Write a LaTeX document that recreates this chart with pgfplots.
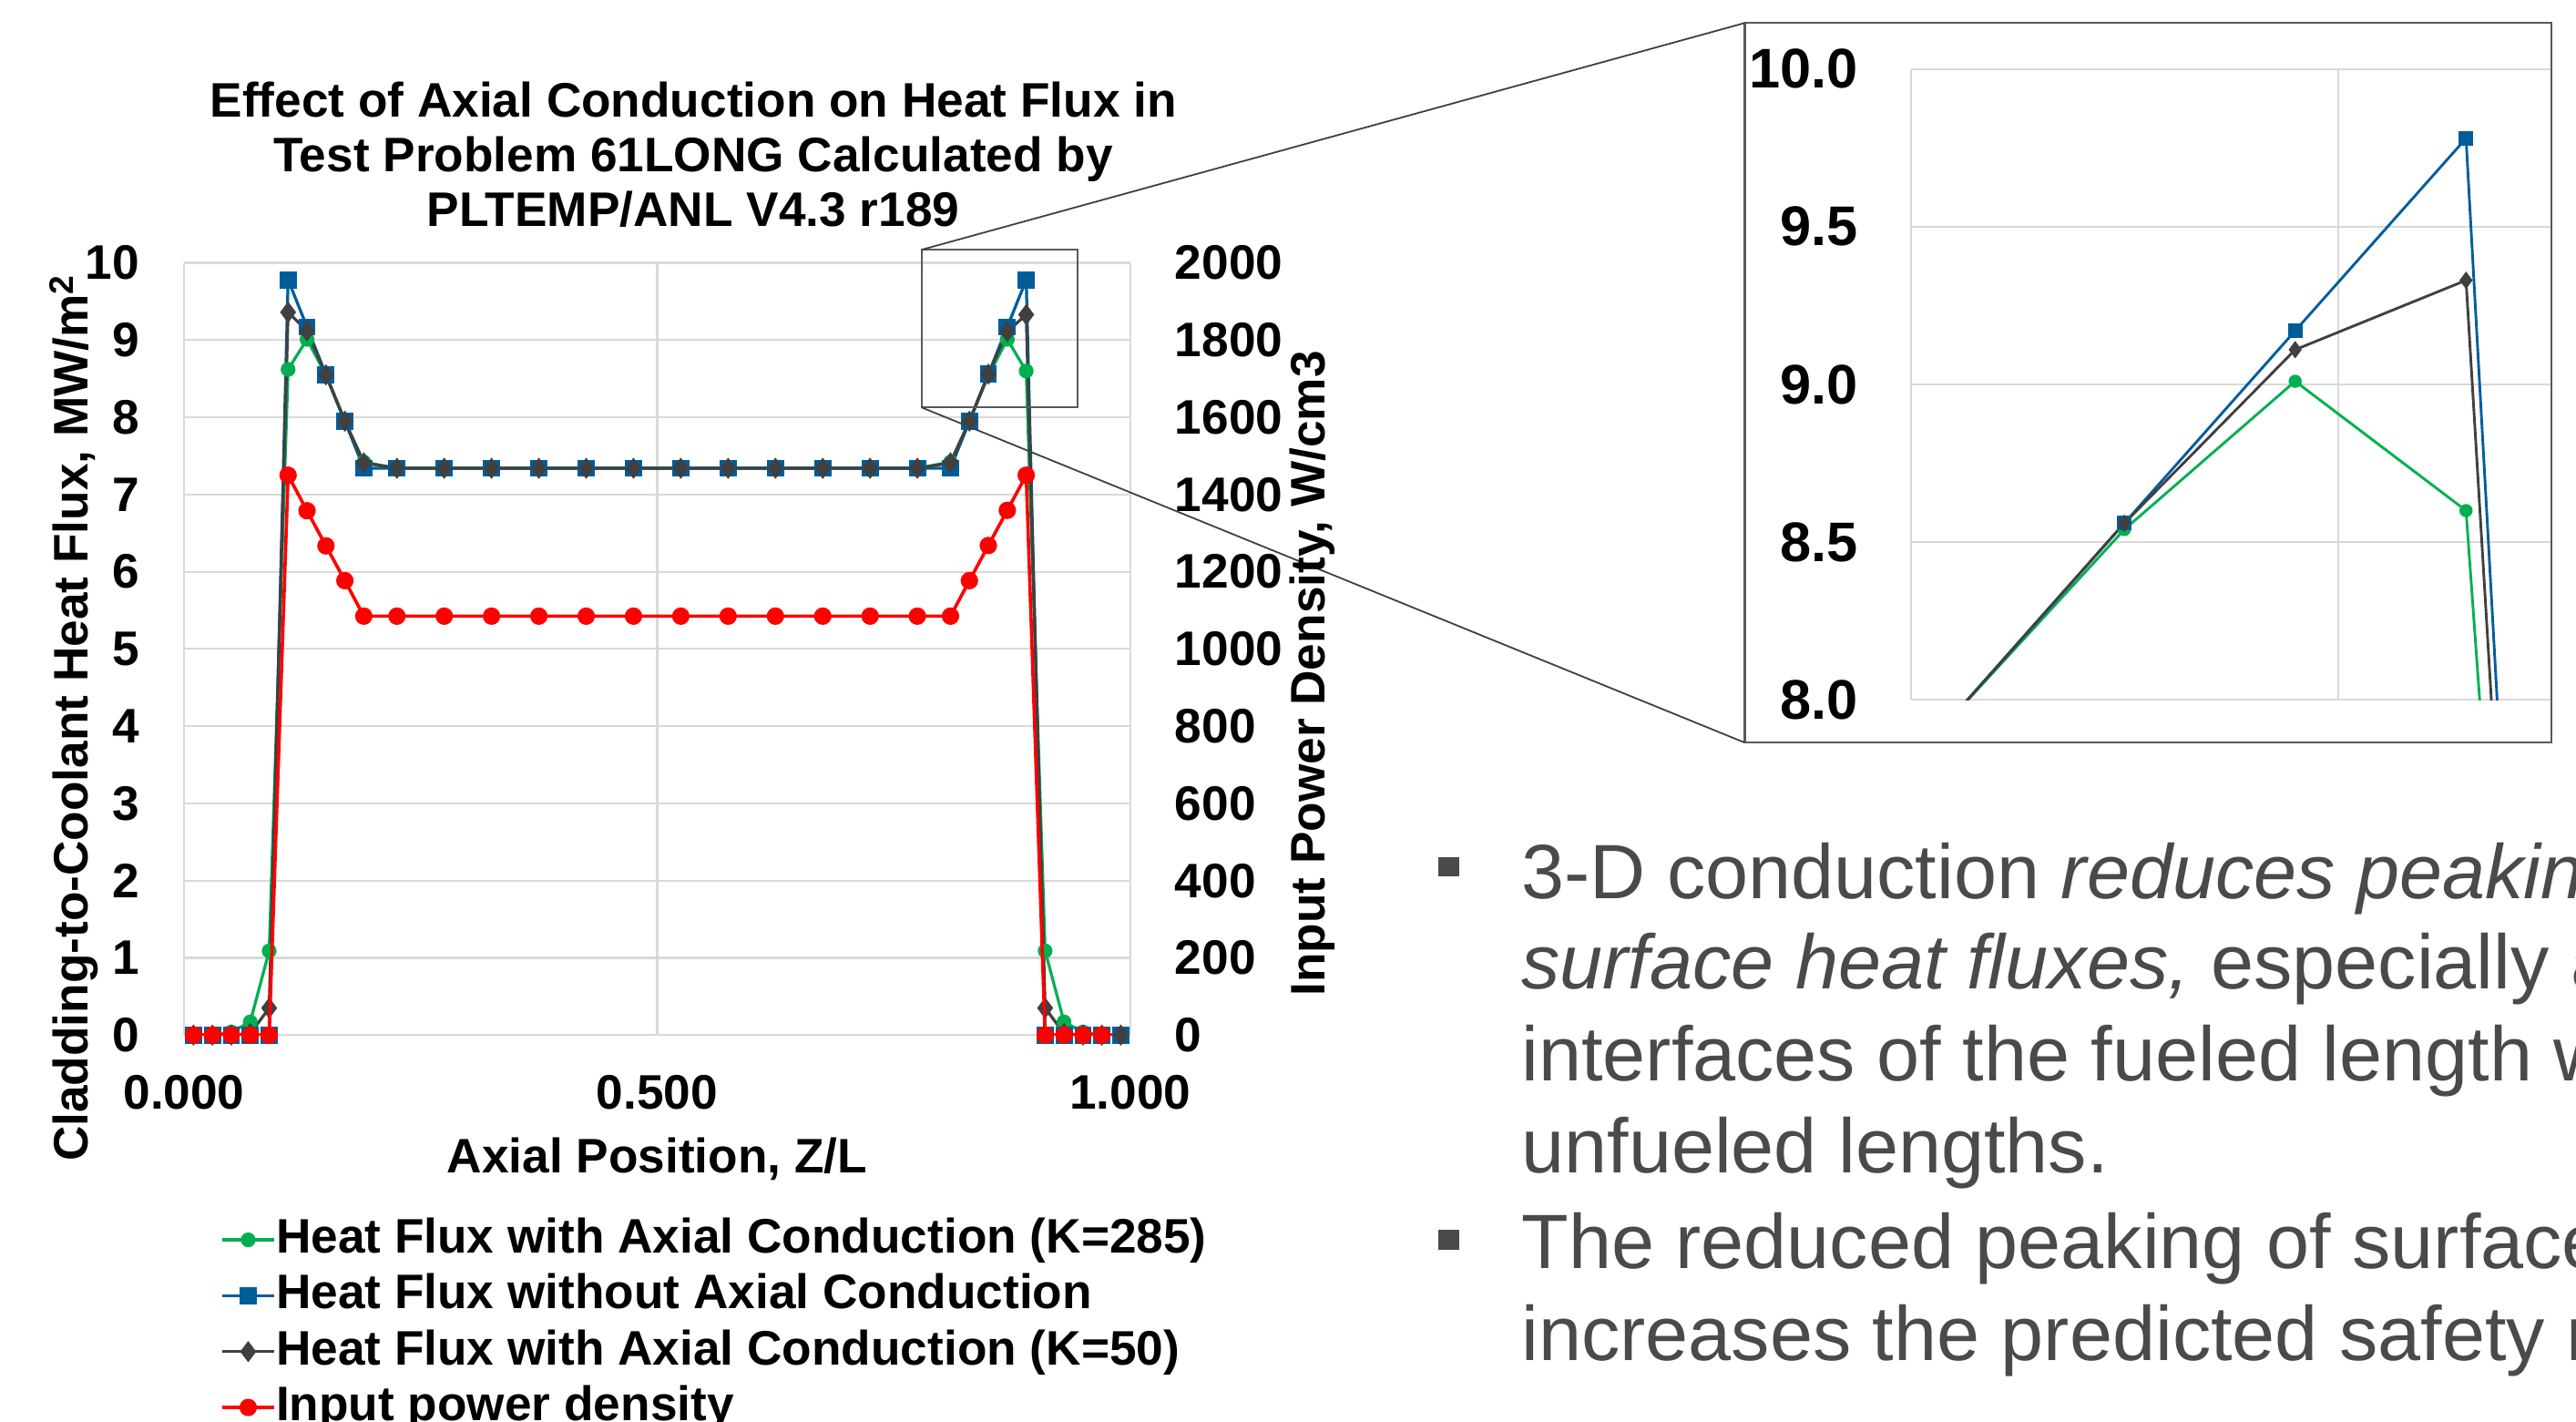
\documentclass[border=0pt]{standalone}
\usepackage{fontspec}
\setmainfont{Liberation Sans}
\usepackage{pgfplots}
\usepackage{pgfplotstable}
\pgfplotsset{compat=1.18}

\definecolor{cgreen}{RGB}{0,176,80}
\definecolor{cblue}{RGB}{0,93,154}
\definecolor{cdark}{RGB}{64,64,64}
\definecolor{cred}{RGB}{255,0,0}
\definecolor{cgrid}{RGB}{217,217,217}
\definecolor{cbox}{RGB}{89,89,89}
\definecolor{ctext}{RGB}{74,74,76}

% x = axial position Z/L, g = K=285, b = no axial conduction, k = K=50, r = power density
\pgfplotstableread{
x      g     b     k     r
0.010  0     0     0     0
0.030  0     0     0     0
0.050  0.04  0     0     0
0.070  0.17  0     0.02  0
0.090  1.09  0     0.35  0
0.110  8.62  9.78  9.36  1450
0.130  9.01  9.17  9.12  1358
0.150  8.55  8.55  8.55  1267
0.170  7.95  7.95  7.95  1177
0.190  7.42  7.34  7.41  1085
0.225  7.34  7.34  7.34  1085
0.275  7.34  7.34  7.34  1085
0.325  7.34  7.34  7.34  1085
0.375  7.34  7.34  7.34  1085
0.425  7.34  7.34  7.34  1085
0.475  7.34  7.34  7.34  1085
0.525  7.34  7.34  7.34  1085
0.575  7.34  7.34  7.34  1085
0.625  7.34  7.34  7.34  1085
0.675  7.34  7.34  7.34  1085
0.725  7.34  7.34  7.34  1085
0.775  7.34  7.34  7.34  1085
0.810  7.42  7.34  7.41  1085
0.830  7.95  7.95  7.95  1177
0.850  8.54  8.56  8.56  1268
0.870  9.01  9.17  9.11  1359
0.890  8.60  9.78  9.33  1450
0.910  1.09  0     0.35  0
0.930  0.17  0     0.02  0
0.950  0.04  0     0     0
0.970  0     0     0     0
0.990  0     0     0     nan
}\flux

\newcommand{\lbl}{\fontsize{29.5}{34}\selectfont\bfseries}

\pgfplotsset{
  gser/.style={color=cgreen, line width=1.8pt, mark=*, mark size=3.6pt, mark options={solid}},
  bser/.style={color=cblue, line width=1.8pt, mark=square*, mark size=4.3pt, mark options={solid}},
  kser/.style={color=cdark, line width=1.8pt, mark=diamond*, mark size=5pt, mark options={solid}},
  rser/.style={color=cred, line width=2pt, mark=*, mark size=4.3pt, mark options={solid}},
}

\begin{document}
\begin{tikzpicture}
\useasboundingbox (0pt,0pt) rectangle (1568pt,865pt);
\clip (0pt,0pt) rectangle (1568pt,865pt);

% main chart, left axis
\begin{axis}[
  at={(112pt,235pt)}, anchor=south west,
  scale only axis, width=576pt, height=470pt,
  xmin=0, xmax=1, ymin=0, ymax=10,
  xtick={0,0.5,1}, xticklabels={0.000,0.500,1.000},
  ytick={0,1,2,3,4,5,6,7,8,9,10},
  grid=major, grid style={draw=cgrid, line width=1.2pt},
  axis line style={draw=none}, major tick length=0pt,
  tick label style={font=\lbl},
  /pgf/number format/assume math mode=true,
  xticklabel style={inner sep=0pt, yshift=-24pt},
  yticklabel style={inner sep=0pt, xshift=-27pt},
  legend style={at={(0.038,-0.235)}, anchor=north west, draw=none, fill=none,
    font=\lbl, row sep=6pt, inner sep=0pt,
    nodes={inner sep=0pt, text height=22pt, text depth=6pt},
    /tikz/every even column/.append style={column sep=3pt}},
  legend cell align=left,
  legend image code/.code={\draw[mark repeat=2, mark phase=2] plot coordinates {(0pt,0pt) (16pt,0pt) (32pt,0pt)};},
]
\addplot[gser] table[x=x, y=g] {\flux};
\addlegendentry{Heat Flux with Axial Conduction (K=285)}
\addplot[bser] table[x=x, y=b] {\flux};
\addlegendentry{Heat Flux without Axial Conduction}
\addplot[kser] table[x=x, y=k] {\flux};
\addlegendentry{Heat Flux with Axial Conduction (K=50)}
\addlegendimage{rser}
\addlegendentry{Input power density}
\end{axis}

% main chart, right axis
\begin{axis}[
  at={(112pt,235pt)}, anchor=south west,
  scale only axis, width=576pt, height=470pt,
  xmin=0, xmax=1, ymin=0, ymax=2000,
  axis x line=none, axis y line*=right,
  ytick={0,200,400,600,800,1000,1200,1400,1600,1800,2000},
  axis line style={draw=none}, major tick length=0pt,
  tick label style={font=\lbl},
  /pgf/number format/assume math mode=true,
  /pgf/number format/1000 sep={},
  yticklabel style={inner sep=0pt, xshift=27pt, anchor=west},
]
\addplot[rser] table[x=x, y=r] {\flux};
\end{axis}

% inset (zoom of the right peak)
\begin{axis}[
  at={(1163pt,439pt)}, anchor=south west,
  scale only axis, width=390pt, height=384pt,
  xmin=0.825, xmax=0.9, ymin=8, ymax=10,
  xtick={0.825,0.875}, xticklabels={},
  ytick={8,8.5,9,9.5,10}, yticklabels={8.0,8.5,9.0,9.5,10.0},
  grid=major, grid style={draw=cgrid, line width=1.2pt},
  axis line style={draw=none}, major tick length=0pt,
  yticklabel style={font=\fontsize{34}{40}\selectfont\bfseries, inner sep=0pt, xshift=-32pt},
  /pgf/number format/assume math mode=true,
]
\addplot[gser, line width=1.6pt, mark size=3.2pt] table[x=x, y=g] {\flux};
\addplot[bser, line width=1.6pt, mark size=3.6pt] table[x=x, y=b] {\flux};
\addplot[kser, line width=1.6pt, mark size=4pt] table[x=x, y=k] {\flux};
\end{axis}

% inset frame, marker rectangle and connectors
\draw[cbox, line width=1.2pt] (1062pt,851pt) rectangle (1553pt,413pt);
\draw[cbox, line width=1pt] (561pt,713pt) rectangle (656pt,617pt);
\draw[cdark, line width=1pt] (561pt,713pt) -- (1062pt,851pt);
\draw[cdark, line width=1pt] (561pt,617pt) -- (1062pt,413pt);

% titles and axis labels
\node[font=\lbl, anchor=base] at (422pt,794pt) {Effect of Axial Conduction on Heat Flux in};
\node[font=\lbl, anchor=base] at (422pt,760.5pt) {Test Problem 61LONG Calculated by};
\node[font=\lbl, anchor=base] at (422pt,727pt) {PLTEMP/ANL V4.3 r189};
\node[font=\lbl, anchor=base] at (400pt,151pt) {Axial Position, Z/L};
\node[font=\lbl, anchor=base, rotate=90] at (53.5pt,428pt) {Cladding-to-Coolant Heat Flux, MW/m\textsuperscript{2}};
\node[font=\lbl, anchor=base, rotate=90] at (806.5pt,455pt) {Input Power Density, W/cm3};

% bullet text
\fill[ctext] (875.5pt,343.5pt) rectangle (888.5pt,331.5pt);
\fill[ctext] (875.5pt,116.5pt) rectangle (888.5pt,104.5pt);
\begin{scope}[every node/.style={anchor=base west, inner sep=0pt, text=ctext, font=\fontsize{46.9}{56}\selectfont}]
\node at (926pt,318pt) {3-D conduction \textit{reduces peaking of}};
\node at (926pt,263pt) {\textit{surface heat fluxes,} especially at the};
\node at (926pt,207pt) {interfaces of the fueled length with};
\node at (926pt,151pt) {unfueled lengths.};
\node at (926pt,93pt) {The reduced peaking of surface heat flux};
\node at (926pt,37pt) {increases the predicted safety margins.};
\end{scope}
\end{tikzpicture}
\end{document}
